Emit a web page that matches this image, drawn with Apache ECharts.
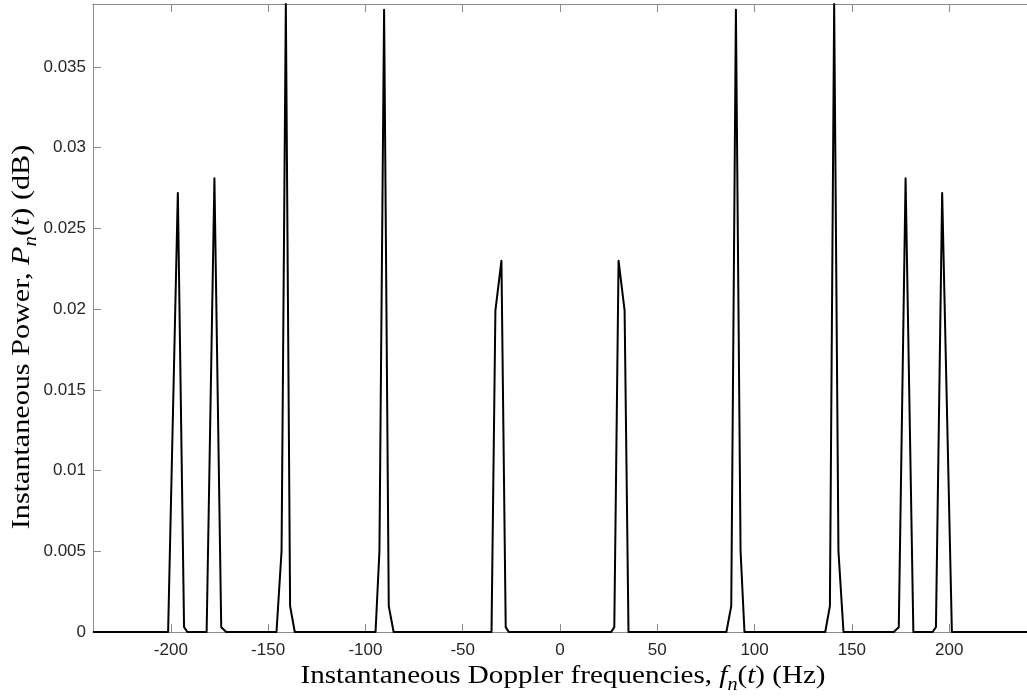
<!DOCTYPE html>
<html>
<head>
<meta charset="utf-8">
<script src="https://cdn.jsdelivr.net/npm/echarts@6/dist/echarts.min.js"></script>
<style>
  html, body { margin: 0; padding: 0; background: #ffffff; }
  #chart { width: 1027px; height: 696px; }
</style>
</head>
<body>
<div id="chart"></div>
<script>
// Instantaneous Doppler frequencies (Hz) at which the power samples are taken
const freqs = [
  -240,
  -201.4, -196.4, -193.2, -191.5,
  -181.6, -177.6, -174.1, -171.5,
  -145.7, -143.1, -140.9, -138.7, -136.3,
  -94.8, -92.8, -90.4, -88.0, -85.5,
  -35.2, -33.2, -30.1, -27.9, -26.3,
  26.3, 27.9, 30.1, 33.2, 35.2,
  85.5, 88.0, 90.4, 92.8, 94.8,
  136.3, 138.7, 140.9, 143.1, 145.7,
  171.5, 174.1, 177.6, 181.6,
  191.5, 193.2, 196.4, 201.4,
  240
];

// Instantaneous power at each frequency
const power = [
  0,
  0, 0.0272, 0.0003, 0,
  0, 0.0281, 0.0003, 0,
  0, 0.0050, 0.0389, 0.0016, 0,
  0, 0.0050, 0.03855, 0.0016, 0,
  0, 0.0199, 0.0230, 0.0003, 0,
  0, 0.0003, 0.0230, 0.0199, 0,
  0, 0.0016, 0.03855, 0.0050, 0,
  0, 0.0016, 0.0389, 0.0050, 0,
  0, 0.0003, 0.0281, 0,
  0, 0.0003, 0.0272, 0,
  0
];

// Tick values
const xTicks = [-200, -150, -100, -50, 0, 50, 100, 150, 200];
const yTicks = [0, 0.005, 0.01, 0.015, 0.02, 0.025, 0.03, 0.035];

const xRange = [-240, 240];
const yRange = [0, 0.0389];

const points = freqs.map((f, i) => [f, power[i]]);

const axisGrey = '#8c8c8c';
const labelColor = '#262626';
const sans = '"Liberation Sans", Arial, sans-serif';
const serif = '"Liberation Serif", "Times New Roman", serif';

const chart = echarts.init(document.getElementById('chart'), null, { renderer: 'canvas' });

// rich styles for an axis title: upright text, italic symbols, italic subscript
function titleRich(size) {
  const lh = Math.round(size * 1.4);
  return {
    r: { fontFamily: serif, fontSize: size, color: '#000', lineHeight: lh, verticalAlign: 'middle' },
    i: { fontFamily: serif, fontSize: size, fontStyle: 'italic', color: '#000', lineHeight: lh, verticalAlign: 'middle' },
    s: { fontFamily: serif, fontSize: Math.round(size * 0.7), fontStyle: 'italic', color: '#000',
         lineHeight: Math.round(size * 0.92), verticalAlign: 'bottom' }
  };
}

chart.setOption({
  animation: false,
  backgroundColor: '#ffffff',
  grid: { left: 93, right: -4, top: 4, bottom: 64, containLabel: false },
  xAxis: [
    {
      type: 'value',
      min: xRange[0],
      max: xRange[1],
      position: 'bottom',
      axisLine: { show: true, onZero: false, lineStyle: { color: axisGrey, width: 1 } },
      axisTick: { show: true, inside: true, length: 8, customValues: xTicks, lineStyle: { color: axisGrey } },
      axisLabel: {
        show: true, customValues: xTicks, margin: 10,
        fontFamily: sans, fontSize: 17, color: labelColor
      },
      splitLine: { show: false }
    },
    {
      type: 'value',
      min: xRange[0],
      max: xRange[1],
      position: 'top',
      axisLine: { show: true, onZero: false, lineStyle: { color: axisGrey, width: 1 } },
      axisTick: { show: true, inside: true, length: 8, customValues: xTicks, lineStyle: { color: axisGrey } },
      axisLabel: { show: false },
      splitLine: { show: false }
    }
  ],
  yAxis: [
    {
      type: 'value',
      min: yRange[0],
      max: yRange[1],
      position: 'left',
      axisLine: { show: true, onZero: false, lineStyle: { color: axisGrey, width: 1 } },
      axisTick: { show: true, inside: true, length: 8, customValues: yTicks, lineStyle: { color: axisGrey } },
      axisLabel: {
        show: true, customValues: yTicks, margin: 7,
        formatter: v => String(v),
        fontFamily: sans, fontSize: 17, color: labelColor
      },
      splitLine: { show: false }
    }
  ],
  series: [
    {
      type: 'line',
      data: points,
      xAxisIndex: 0,
      yAxisIndex: 0,
      showSymbol: false,
      symbol: 'none',
      clip: true,
      lineStyle: { color: '#000000', width: 2, join: 'round' },
      z: 3
    }
  ],
  graphic: [
    {
      type: 'text',
      x: 563,
      y: 676,
      scaleX: 1.12,
      style: {
        text: '{r|Instantaneous Doppler frequencies, }{i|f}{s|n}{r|(}{i|t}{r|) (Hz)}',
        rich: titleRich(26),
        align: 'center',
        verticalAlign: 'middle'
      }
    },
    {
      type: 'text',
      x: 22,
      y: 337,
      rotation: Math.PI / 2,
      scaleX: 1.16,
      style: {
        text: '{r|Instantaneous Power, }{i|P}{s|n}{r|(}{i|t}{r|) (dB)}',
        rich: titleRich(26),
        align: 'center',
        verticalAlign: 'middle'
      }
    }
  ]
});
</script>
</body>
</html>
